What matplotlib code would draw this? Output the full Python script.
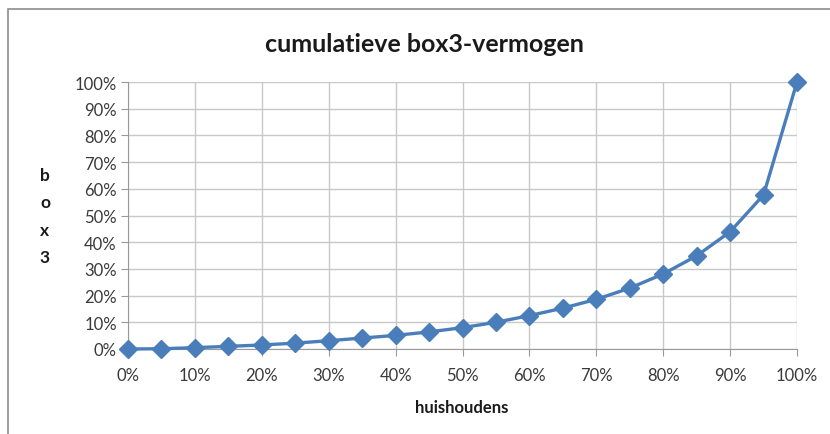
import matplotlib
matplotlib.use("Agg")
import matplotlib.pyplot as plt
from matplotlib.ticker import FuncFormatter, MultipleLocator
from matplotlib.patches import Rectangle

households = [0, 5, 10, 15, 20, 25, 30, 35, 40, 45, 50, 55, 60, 65, 70, 75, 80, 85, 90, 95, 100]
box3 = [0, 0.1, 0.5, 1.0, 1.5, 2.2, 3.1, 4.1, 5.1, 6.4, 8.0, 10.0, 12.5, 15.3, 18.6, 22.8, 28.1, 34.9, 43.9, 57.7, 100]
title = "cumulatieve box3-vermogen"
xlabel = "huishoudens"
ylabel = "b\no\nx\n3"

plt.rcParams['font.family'] = ['Lato', 'DejaVu Sans']

fig = plt.figure(figsize=(8.3, 4.35), dpi=100)
fig.patches.append(Rectangle((8/830, -0.1), 1.2, 1 - 10/435 + 0.1, transform=fig.transFigure,
                             fill=False, edgecolor='#8c8c8c', linewidth=1.2))
ax = fig.add_axes([128/830, 1 - 350/435, (797 - 128)/830, (350 - 83)/435])

ax.plot(households, box3, color='#4a7ebb', linewidth=2.4, marker='D', markersize=9.5,
        markeredgecolor='#4a7ebb', markerfacecolor='#4a7ebb', clip_on=False, zorder=5)

ax.set_xlim(0, 100)
ax.set_ylim(0, 100)
ax.xaxis.set_major_locator(MultipleLocator(10))
ax.yaxis.set_major_locator(MultipleLocator(10))
fmt = FuncFormatter(lambda v, p: f"{int(round(v))}%")
ax.xaxis.set_major_formatter(fmt)
ax.yaxis.set_major_formatter(fmt)
ax.grid(True, color='#c8c8c8', linewidth=1.0)
ax.set_axisbelow(True)
for s in ['top', 'right']:
    ax.spines[s].set_visible(False)
for s in ['left', 'bottom']:
    ax.spines[s].set_color('#9a9a9a')
ax.tick_params(axis='both', colors='#9a9a9a', labelcolor='#3a3a3a', labelsize=12, length=5, direction='out')
ax.tick_params(axis='x', pad=8)
ax.tick_params(axis='y', pad=3)

fig.text(424/830, 1 - 44/435, title, ha='center', va='center', fontsize=18, fontweight='bold', color='#1a1a1a')
fig.text(462/830, 1 - 408/435, xlabel, ha='center', va='center', fontsize=12, fontweight='bold', color='#1a1a1a')
fig.text(45/830, 1 - 217/435, ylabel, ha='center', va='center', fontsize=12.5, fontweight='bold',
         color='#1a1a1a', linespacing=1.85)

fig.savefig("out.png", dpi=100)
